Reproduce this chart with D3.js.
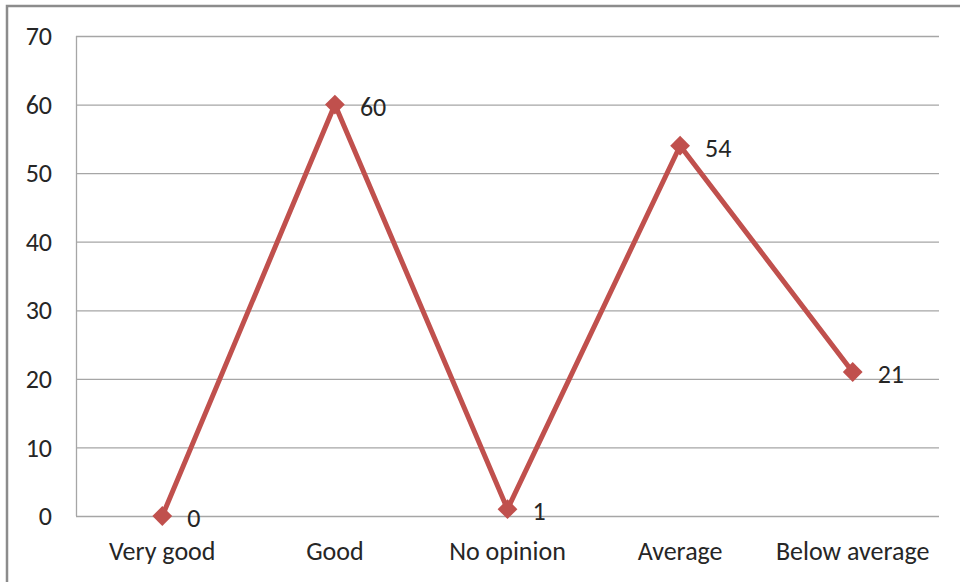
<!DOCTYPE html>
<html><head><meta charset="utf-8">
<script src="https://cdn.jsdelivr.net/npm/d3@7"></script>
<style>body{margin:0;background:#fff}svg{display:block}text{font-family:Carlito,Calibri,"Open Sans",sans-serif;fill:#262626}</style>
</head><body>
<svg id="c" width="960" height="582"></svg>
<script>
const categories = ["Very good","Good","No opinion","Average","Below average"];
const values = [0,60,1,54,21];
const yTicks = [0,10,20,30,40,50,60,70];

const svg = d3.select("#c");
svg.append("rect").attr("x",7).attr("y",6).attr("width",1000).attr("height",1000)
  .attr("fill","none").attr("stroke","#8c8c8c").attr("stroke-width",2.5);

const L=76,R=939,T=36,B=516;
const x = d3.scaleBand().domain(categories).range([L,R]);
const y = d3.scaleLinear().domain([0,70]).range([B,T]);

svg.append("g").selectAll("line").data(yTicks).join("line")
  .attr("x1",L).attr("x2",R).attr("y1",d=>y(d)+0.5).attr("y2",d=>y(d)+0.5)
  .attr("stroke","#a6a6a6").attr("stroke-width",1.3);
svg.append("line").attr("x1",L+0.5).attr("x2",L+0.5).attr("y1",T).attr("y2",B)
  .attr("stroke","#a6a6a6").attr("stroke-width",1.3);

svg.append("g").selectAll("text").data(yTicks).join("text")
  .attr("x",52).attr("y",d=>y(d)).attr("dy","0.35em").attr("text-anchor","end")
  .attr("font-size",26).text(d=>d);

svg.append("g").selectAll("text").data(categories).join("text")
  .attr("x",d=>x(d)+x.bandwidth()/2).attr("y",551).attr("dy","0.35em").attr("text-anchor","middle")
  .attr("font-size",26).text(d=>d);

const cx = (d,i)=>x(categories[i])+x.bandwidth()/2;
const line = d3.line().x((d,i)=>cx(d,i)).y(d=>y(d));
svg.append("path").datum(values).attr("d",line).attr("fill","none")
  .attr("stroke","#c0504d").attr("stroke-width",5).attr("stroke-linejoin","round");

svg.append("g").selectAll("path").data(values).join("path")
  .attr("d",d3.symbol(d3.symbolDiamond2, 250))
  .attr("transform",(d,i)=>`translate(${cx(d,i)},${y(d)})`)
  .attr("fill","#c0504d");

svg.append("g").selectAll("text").data(values).join("text")
  .attr("x",(d,i)=>cx(d,i)+25).attr("y",d=>y(d)+2).attr("dy","0.35em")
  .attr("font-size",26).text(d=>d);
</script>
</body></html>
